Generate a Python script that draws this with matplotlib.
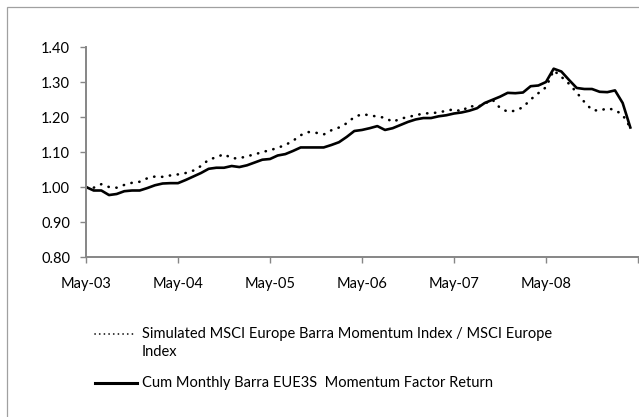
import numpy as np
import matplotlib
matplotlib.use("Agg")
import matplotlib.pyplot as plt
from matplotlib.lines import Line2D
from matplotlib.patches import Rectangle

# monthly points, May-03 .. Apr-09
simulated = [1.000, 0.998, 1.008, 1.000, 0.998, 1.006, 1.012, 1.015, 1.025, 1.030,
             1.029, 1.033, 1.036, 1.040, 1.047, 1.060, 1.078, 1.085, 1.094, 1.082,
             1.082, 1.088, 1.093, 1.100, 1.105, 1.112, 1.120, 1.132, 1.148, 1.157,
             1.155, 1.150, 1.162, 1.170, 1.182, 1.200, 1.208, 1.205, 1.201, 1.198,
             1.186, 1.195, 1.200, 1.205, 1.210, 1.211, 1.213, 1.218, 1.222, 1.216,
             1.232, 1.228, 1.238, 1.250, 1.226, 1.215, 1.218, 1.228, 1.250, 1.268,
             1.285, 1.333, 1.315, 1.295, 1.270, 1.243, 1.220, 1.218, 1.225, 1.220,
             1.206, 1.170]
factor = [1.000, 0.990, 0.990, 0.977, 0.980, 0.988, 0.990, 0.990, 0.997, 1.005,
          1.010, 1.011, 1.011, 1.020, 1.030, 1.040, 1.052, 1.055, 1.055, 1.060,
          1.057, 1.062, 1.070, 1.078, 1.080, 1.090, 1.094, 1.103, 1.113, 1.113,
          1.113, 1.113, 1.120, 1.128, 1.143, 1.160, 1.163, 1.168, 1.174, 1.163,
          1.168, 1.177, 1.186, 1.193, 1.197, 1.197, 1.202, 1.205, 1.210, 1.213,
          1.218, 1.225, 1.240, 1.249, 1.258, 1.269, 1.268, 1.270, 1.288, 1.290,
          1.300, 1.338, 1.330, 1.306, 1.283, 1.280, 1.280, 1.272, 1.271, 1.276,
          1.240, 1.170]
tick_labels = ["May-03", "May-04", "May-05", "May-06", "May-07", "May-08", ""]
sim_label = "Simulated MSCI Europe Barra Momentum Index / MSCI Europe\nIndex"
fac_label = "Cum Monthly Barra EUE3S  Momentum Factor Return"

plt.rcParams["font.family"] = ["Lato", "DejaVu Sans"]
W, H = 639, 417
fs = 10.5
fig = plt.figure(figsize=(W / 100, H / 100), dpi=100)

# outer chart border (cut at right/bottom)
fig.add_artist(Rectangle((7 / W, -0.1), 1.2, 1 - 7 / H + 0.1, transform=fig.transFigure,
                         fill=False, edgecolor="#a0a0a0", linewidth=0.9))

ax = fig.add_axes([86 / W, 1 - 257 / H, (638 - 86) / W, (257 - 47) / H])
months = np.arange(len(factor))
dots = (0, (0.1, 2.9))
ax.plot(months, simulated, color="black", linewidth=1.9, linestyle=dots,
        dash_capstyle="round")
ax.plot(months, factor, color="black", linewidth=1.9)

ax.set_xlim(0, 72)
ax.set_ylim(0.80, 1.40)
ax.set_xticks(np.arange(0, 73, 12))
ax.set_xticklabels(tick_labels)
ax.set_yticks(np.arange(0.8, 1.41, 0.1))
ax.set_yticklabels([f"{v:.2f}" for v in np.arange(0.8, 1.41, 0.1)])
for s in ["top", "right"]:
    ax.spines[s].set_visible(False)
for s in ["left", "bottom"]:
    ax.spines[s].set_color("#868686")
    ax.spines[s].set_linewidth(1.4)
ax.tick_params(axis="both", colors="#868686", length=4, width=1, labelsize=fs,
               labelcolor="black")
ax.tick_params(axis="x", pad=10.5)
ax.tick_params(axis="y", pad=7.5)

# legend drawn by hand
fig.add_artist(Line2D([95 / W, 137 / W], [1 - 334 / H] * 2, color="black", linewidth=1.2,
                      linestyle=(0, (0.1, 2.7)), dash_capstyle="round"))
for i, line in enumerate(sim_label.split("\n")):
    fig.text(142 / W, 1 - (334 + 18 * i) / H, line, fontsize=fs, va="center", ha="left")
fig.add_artist(Line2D([95 / W, 137 / W], [1 - 383 / H] * 2, color="black", linewidth=2.2))
fig.text(142 / W, 1 - 383 / H, fac_label, fontsize=fs, va="center", ha="left")

fig.savefig("out.png", dpi=100)
